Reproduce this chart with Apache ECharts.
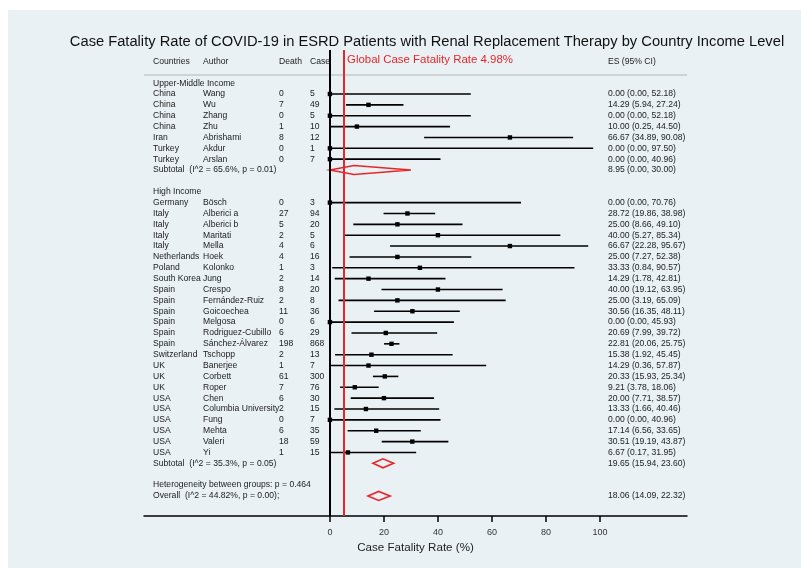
<!DOCTYPE html>
<html><head><meta charset="utf-8">
<script src="https://cdn.jsdelivr.net/npm/echarts@6/dist/echarts.min.js"></script>
<style>html,body{margin:0;padding:0;background:#fff}#c{width:801px;height:568px}</style>
</head><body><div id="c"></div>
<script>
// ---------- DATA ----------
const umCountries = ['China','China','China','China','Iran','Turkey','Turkey'];
const umAuthors   = ['Wang','Wu','Zhang','Zhu','Abrishami','Akdur','Arslan'];
const umDeaths    = [0,7,0,1,8,0,0];
const umCases     = [5,49,5,10,12,1,7];
const umES        = [0.00,14.29,0.00,10.00,66.67,0.00,0.00];
const umLo        = [0.00,5.94,0.00,0.25,34.89,0.00,0.00];
const umHi        = [52.18,27.24,52.18,44.50,90.08,97.50,40.96];
const umSubtotal  = [8.95,0.00,30.00];
const umSubLabel  = 'Subtotal  (I^2 = 65.6%, p = 0.01)';

const hiCountries = ['Germany','Italy','Italy','Italy','Italy','Netherlands','Poland','South Korea','Spain','Spain','Spain','Spain','Spain','Spain','Switzerland','UK','UK','UK','USA','USA','USA','USA','USA','USA'];
const hiAuthors   = ['Bösch','Alberici a','Alberici b','Maritati','Mella','Hoek','Kolonko','Jung','Crespo','Fernández-Ruiz','Goicoechea','Melgosa','Rodriguez-Cubillo','Sánchez-Álvarez','Tschopp','Banerjee','Corbett','Roper','Chen','Columbia University','Fung','Mehta','Valeri','Yi'];
const hiDeaths    = [0,27,5,2,4,4,1,2,8,2,11,0,6,198,2,1,61,7,6,2,0,6,18,1];
const hiCases     = [3,94,20,5,6,16,3,14,20,8,36,6,29,868,13,7,300,76,30,15,7,35,59,15];
const hiES        = [0.00,28.72,25.00,40.00,66.67,25.00,33.33,14.29,40.00,25.00,30.56,0.00,20.69,22.81,15.38,14.29,20.33,9.21,20.00,13.33,0.00,17.14,30.51,6.67];
const hiLo        = [0.00,19.86,8.66,5.27,22.28,7.27,0.84,1.78,19.12,3.19,16.35,0.00,7.99,20.06,1.92,0.36,15.93,3.78,7.71,1.66,0.00,6.56,19.19,0.17];
const hiHi        = [70.76,38.98,49.10,85.34,95.67,52.38,90.57,42.81,63.95,65.09,48.11,45.93,39.72,25.75,45.45,57.87,25.34,18.06,38.57,40.46,40.96,33.65,43.87,31.95];
const hiSubtotal  = [19.65,15.94,23.60];
const hiSubLabel  = 'Subtotal  (I^2 = 35.3%, p = 0.05)';

const overall      = [18.06,14.09,22.32];
const overallLabel = 'Overall  (I^2 = 44.82%, p = 0.00);';
const hetLabel     = 'Heterogeneity between groups: p = 0.464';
const globalRate   = 4.98;
const headers      = ['Countries','Author','Death','Case','ES (95% CI)'];
const xTicks       = [0,20,40,60,80,100];
const titleText    = 'Case Fatality Rate of COVID-19 in ESRD Patients with Renal Replacement Therapy by Country Income Level';

// ---------- BUILD ROWS ----------
const fmt = (e,l,h) => e.toFixed(2)+' ('+l.toFixed(2)+', '+h.toFixed(2)+')';
const textRows = [];
const studyRows = [];
const diamondRows = [];
let r = 0;
textRows.push({row:r, cols:headers.slice()}); r += 2;
textRows.push({row:r, cols:['Upper-Middle Income','','','','']}); r++;
umCountries.forEach((c,i)=>{
  textRows.push({row:r, cols:[c,umAuthors[i],String(umDeaths[i]),String(umCases[i]),fmt(umES[i],umLo[i],umHi[i])]});
  studyRows.push([r,umES[i],umLo[i],umHi[i]]); r++;
});
textRows.push({row:r, cols:[umSubLabel,'','','',fmt(umSubtotal[0],umSubtotal[1],umSubtotal[2])]});
diamondRows.push([r,umSubtotal[0],umSubtotal[1],umSubtotal[2]]); r += 2;
textRows.push({row:r, cols:['High Income','','','','']}); r++;
hiCountries.forEach((c,i)=>{
  textRows.push({row:r, cols:[c,hiAuthors[i],String(hiDeaths[i]),String(hiCases[i]),fmt(hiES[i],hiLo[i],hiHi[i])]});
  studyRows.push([r,hiES[i],hiLo[i],hiHi[i]]); r++;
});
textRows.push({row:r, cols:[hiSubLabel,'','','',fmt(hiSubtotal[0],hiSubtotal[1],hiSubtotal[2])]});
diamondRows.push([r,hiSubtotal[0],hiSubtotal[1],hiSubtotal[2]]); r += 2;
textRows.push({row:r, cols:[hetLabel,'','','','']}); r++;
textRows.push({row:r, cols:[overallLabel,'','','',fmt(overall[0],overall[1],overall[2])]});
diamondRows.push([r,overall[0],overall[1],overall[2]]);

// ---------- CHART ----------
const FONT = 'Arial, "Liberation Sans", sans-serif';
const colX = [153,203,279,310,608];
const RED = '#e8262a';
const chart = echarts.init(document.getElementById('c'), null, {renderer:'canvas'});
chart.setOption({
  backgroundColor:'#ffffff',
  animation:false,
  textStyle:{fontFamily:FONT},
  grid:{left:144, top:50, width:543, height:466, containLabel:false},
  xAxis:{type:'value', min:-68.85, max:132.25, position:'bottom',
    axisLine:{show:true, onZero:false, lineStyle:{color:'#000', width:1.5}},
    axisTick:{show:true, inside:false, length:6, customValues:xTicks, lineStyle:{color:'#000', width:1.5}},
    axisLabel:{show:true, customValues:xTicks, fontSize:9, color:'#333', margin:12, fontFamily:FONT},
    splitLine:{show:false},
    name:'Case Fatality Rate (%)', nameLocation:'middle', nameGap:23,
    nameTextStyle:{fontSize:11.6, color:'#222', fontFamily:FONT}
  },
  yAxis:{type:'value', inverse:true, min:-1.05, max:41.85, show:false},
  graphic:[
    {type:'rect', z:-100, silent:true, shape:{x:8,y:10,width:793,height:558}, style:{fill:'#e9f1f4'}},
    {type:'text', silent:true, x:427, y:42, style:{text:titleText, fontSize:14.7, fontFamily:FONT, fill:'#111', align:'center', verticalAlign:'middle'}},
    {type:'line', silent:true, shape:{x1:144,y1:75,x2:687,y2:75}, style:{stroke:'#c6c9cb', lineWidth:1.5}},
    {type:'text', silent:true, x:347, y:60, style:{text:'Global Case Fatality Rate '+globalRate.toFixed(2)+'%', fontSize:11.45, fontFamily:FONT, fill:RED, align:'left', verticalAlign:'middle'}}
  ],
  series:[
    {type:'custom', name:'text', silent:true, clip:false,
      encode:{x:0,y:1},
      data:textRows.map(t=>[0,t.row]),
      renderItem:function(params, api){
        const t = textRows[params.dataIndex];
        const y = api.coord([0, t.row])[1];
        const children = [];
        t.cols.forEach((s,i)=>{
          if(!s) return;
          children.push({type:'text', x:colX[i], y:y, style:{text:s, fontSize:8.6, fontFamily:FONT, fill:'#222', align:'left', verticalAlign:'middle'}});
        });
        return {type:'group', children:children};
      }
    },
    {type:'custom', name:'studies', silent:true, clip:false,
      encode:{x:[1,2,3], y:0},
      data:studyRows,
      renderItem:function(params, api){
        const row = api.value(0), es = api.value(1), lo = api.value(2), hi = api.value(3);
        const a = api.coord([lo,row]), b = api.coord([hi,row]), c = api.coord([es,row]);
        return {type:'group', children:[
          {type:'line', shape:{x1:a[0],y1:a[1],x2:b[0],y2:b[1]}, style:{stroke:'#000', lineWidth:1.6}},
          {type:'rect', shape:{x:c[0]-2.2,y:c[1]-2.2,width:4.4,height:4.4}, style:{fill:'#000'}}
        ]};
      },
      markLine:{silent:true, symbol:['none','none'], label:{show:false},
        data:[
          {xAxis:0, lineStyle:{color:'#000', width:2, type:'solid'}},
          {xAxis:globalRate, lineStyle:{color:RED, width:2, type:'solid'}}
        ]}
    },
    {type:'custom', name:'diamonds', silent:true, clip:false,
      encode:{x:[1,2,3], y:0},
      data:diamondRows,
      renderItem:function(params, api){
        const row = api.value(0), es = api.value(1), lo = api.value(2), hi = api.value(3);
        const a = api.coord([lo,row]), b = api.coord([hi,row]), c = api.coord([es,row]);
        return {type:'polygon', shape:{points:[[a[0],a[1]],[c[0],c[1]-4.5],[b[0],b[1]],[c[0],c[1]+4.5]]},
          style:{fill:'none', stroke:RED, lineWidth:1.6}};
      }
    }
  ]
});
</script></body></html>
